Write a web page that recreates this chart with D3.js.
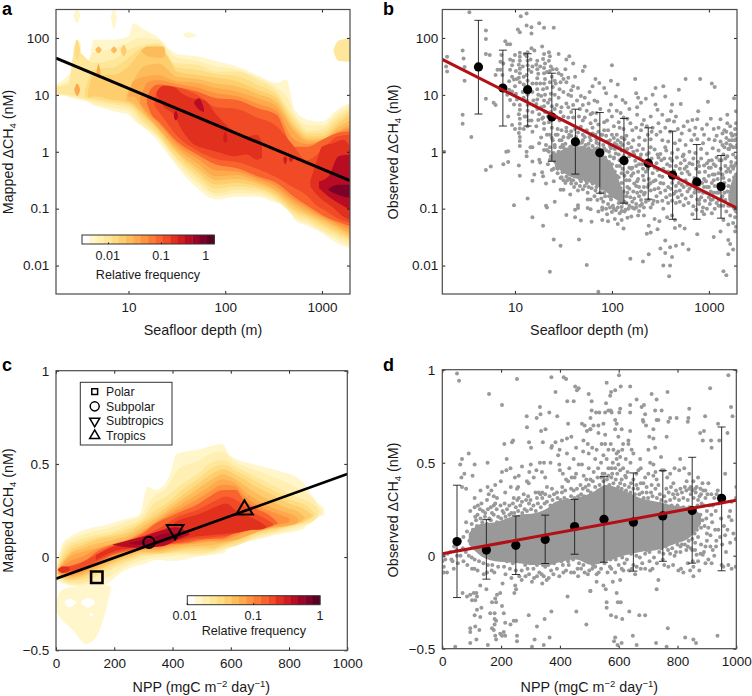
<!DOCTYPE html>
<html><head><meta charset="utf-8">
<style>html,body{margin:0;padding:0;background:#fff}svg{display:block;font-family:"Liberation Sans",Arial,sans-serif}</style>
<script src="https://cdn.jsdelivr.net/npm/d3@7"></script></head><body><div id="c"></div>
<script>
// ---------- shared tick / legend values ----------
const depthTicks=[10,100,1000], logConcTicks=[100,10,1,0.1,0.01], nppTicks=[0,200,400,600,800,1000], linTicks=[-0.5,0,0.5,1];
const freqTicks=[0.01,0.1,1];
const colorRamp=["#ffffff","#fff6cb","#ffefb2","#fee79b","#fedc84","#fecd6e","#fdbc5b","#fda94c","#fd9340","#fc7b35","#f9632d","#f04a26","#e2301f","#d01c1e","#b80c24","#9c0327","#7d0028","#5a0022"];
// ---------- regional means (panel c) ----------
const biomes=["Polar","Subpolar","Subtropics","Tropics"];
const biomeNpp=[140,319,409,647], biomeCH4=[-0.108,0.079,0.147,0.254];
// ---------- fit lines ----------
const fitA=[[1.78,44],[1950,0.31]], fitB=[[1.78,42],[1950,0.102]], fitC=[[0,-0.116],[1000,0.446]], fitD=[[0,0.011],[1000,0.298]];
// ---------- binned stats ----------
const binDepth=[4.2,7.5,13.5,24,42,75,133,237,422,750,1334];
const binMeanB=[31,13.2,12.3,4.07,1.5,0.96,0.70,0.63,0.39,0.295,0.245];
const binHiB=[204,61,52.7,24,5.6,4.9,3.85,2.63,2.3,1.34,0.86];
const binLoB=[4.6,2.83,2.83,0.68,0.405,0.187,0.125,0.147,0.065,0.065,0.068];
const binNpp=[50,150,250,350,450,550,650,750,850,950];
const binMeanD=[0.076,0.03,0.056,0.087,0.157,0.196,0.18,0.214,0.243,0.309];
const binHiD=[0.379,0.194,0.214,0.218,0.303,0.425,0.445,0.457,0.529,0.692];
const binLoD=[-0.225,-0.126,-0.101,-0.042,0.008,-0.035,-0.083,-0.03,-0.04,-0.081];
// ---------- panel a density bands: [log10 depth, log10 low, log10 high]; level = colour step ----------
const a1=[[.25,1,1.18],[.38,.96,1.35],[.41,.94,1.41],[.45,.93,1.97],[.50,.91,1.94],[.53,.90,1.47],[.59,.87,1.56],[.64,.81,1.97],[.74,.77,1.97],[.84,.71,1.97],[1,.65,2.03],[1.05,.56,2.26],[1.16,.42,2.15],[1.29,.21,2.03],[1.41,-.05,1.82],[1.53,-.32,1.71],[1.71,-.64,1.68],[1.91,-.84,1.59],[2.12,-.79,1.5],[2.33,-.79,1.35],[2.53,-.9,1.21],[2.63,-.95,1.27],[2.72,-1.2,.74],[2.86,-1.31,.56],[3,-1.43,.53],[3.16,-1.61,.74],[3.29,-1.7,.86]];
const a1s1=[[.43,2.4,2.42],[.47,2.26,2.5],[.50,2.4,2.42]];
const a1s2=[[.82,2.35,2.38],[.85,2.15,2.5],[.88,2.35,2.38]];
const a1s3=[[1.57,2.04,2.07],[1.62,2,2.1],[1.7,2.03,2.05]];
const a3tr=[[3.12,1.76,1.8],[3.17,1.6,1.95],[3.29,1.58,2.0]];
const a2=[[.25,1.01,1.16],[.38,.98,1.25],[.45,.95,1.85],[.5,.93,1.8],[.53,.92,1.45],[.64,.85,1.75],[.84,.77,1.8],[1,.71,1.92],[1.1,.52,2.0],[1.31,.24,1.97],[1.47,-.14,1.68],[1.71,-.56,1.6],[1.91,-.78,1.5],[2.12,-.73,1.45],[2.33,-.75,1.31],[2.53,-.87,1.13],[2.66,-1.05,.9],[2.71,-1.15,.68],[2.86,-1.27,.46],[3,-1.4,.46],[3.16,-1.55,.68],[3.29,-1.66,.82]];
const a3=[[.25,1.03,1.14],[.38,1,1.18],[.45,.97,1.79],[.64,.89,1.56],[.84,.83,1.62],[1,.77,1.79],[1.16,.5,1.88],[1.31,.27,1.91],[1.47,-.08,1.56],[1.71,-.49,1.53],[1.91,-.73,1.41],[2.12,-.67,1.41],[2.33,-.7,1.27],[2.53,-.84,1.06],[2.71,-1.11,.62],[2.86,-1.23,.36],[3,-1.37,.39],[3.16,-1.49,.62],[3.29,-1.61,.77]];
const a4=[[.55,.96,1.1],[.64,.93,1.45],[.84,.87,1.48],[1,.82,1.65],[1.16,.56,1.84],[1.31,.31,1.87],[1.4,.1,1.7],[1.5,-.1,1.48],[1.71,-.42,1.44],[1.91,-.65,1.36],[2.12,-.61,1.33],[2.33,-.65,1.18],[2.53,-.8,1],[2.71,-1.06,.55],[2.86,-1.18,.32],[3,-1.31,.33],[3.16,-1.44,.55],[3.29,-1.56,.71]];
const a5=[[.58,.95,1.05],[.64,.97,1.35],[.84,.91,1.35],[1,.86,1.5],[1.16,.62,1.79],[1.31,.36,1.82],[1.4,.15,1.68],[1.5,-.03,1.41],[1.71,-.35,1.35],[1.91,-.58,1.3],[2.12,-.55,1.24],[2.33,-.61,1.09],[2.53,-.76,.94],[2.71,-1.02,.48],[2.86,-1.14,.27],[3,-1.26,.27],[3.16,-1.4,.48],[3.29,-1.52,.65]];
const a5s1=[[.66,1.15,1.2],[.69,1.03,1.56],[.72,1.15,1.2]];
const a5s2=[[.82,1.12,1.16],[.85,1,1.3],[.88,1.12,1.16]];
const a5s3=[[.92,1.76,1.8],[.95,1.68,1.88],[.98,1.76,1.8]];
const a4s=[[.44,1.78,1.8],[.47,1.62,1.97],[.5,1.78,1.8]];
const a6=[[.98,.9,1],[1.05,.85,1.25],[1.16,.66,1.5],[1.31,.41,1.55],[1.5,.01,1.32],[1.71,-.28,1.28],[1.91,-.5,1.2],[2.12,-.48,1.15],[2.33,-.56,1.02],[2.53,-.71,.87],[2.71,-.96,.42],[2.86,-1.1,.22],[3,-1.21,.22],[3.16,-1.35,.42],[3.29,-1.47,.56]];
const a6s1=[[.66,1.78,1.8],[.69,1.73,1.85],[.72,1.78,1.8]];
const a6s2=[[.82,1.78,1.8],[.85,1.73,1.85],[.88,1.78,1.8]];
const a6s3=[[1.13,1.76,1.78],[1.2,1.68,1.85],[1.3,1.65,1.85],[1.36,1.65,1.85],[1.38,1.72,1.78]];
const a7s1=[[.44,1.08,1.1],[.47,.98,1.2],[.5,1.08,1.1]];
const a7s2=[[.67,1.38,1.42],[.69,1.3,1.53],[.71,1.38,1.42]];
const a7=[[1,.95,1],[1.05,.97,1.24],[1.16,.71,1.32],[1.29,.45,1.35],[1.5,.06,1.24],[1.71,-.2,1.21],[1.91,-.43,1.12],[2.12,-.41,1.06],[2.33,-.52,.94],[2.53,-.67,.8],[2.71,-.9,.36],[2.86,-1.05,.18],[3,-1.17,.18],[3.16,-1.31,.36],[3.29,-1.43,.48]];
const a8=[[1.12,.85,.95],[1.2,.68,1.22],[1.31,.49,1.26],[1.5,.12,1.19],[1.71,-.12,1.13],[1.91,-.33,1.03],[2.12,-.35,.98],[2.33,-.47,.85],[2.53,-.61,.72],[2.71,-.85,.22],[2.86,-1,.13],[3,-1.14,.2],[3.16,-1.27,.34],[3.29,-1.37,.42]];
const a9=[[1.19,.85,.95],[1.24,.65,1.12],[1.31,.53,1.18],[1.5,.18,1.14],[1.71,-.05,1.06],[1.91,-.23,.94],[2.12,-.29,.91],[2.33,-.43,.77],[2.53,-.55,.65],[2.71,-.79,.09],[2.86,-.96,.09],[3,-1.11,.21],[3.16,-1.23,.33],[3.29,-1.31,.36]];
const a10=[[1.27,.8,.95],[1.35,.62,1.15],[1.5,.28,1.13],[1.71,.02,1],[1.91,-.13,.78],[2.12,-.18,.75],[2.33,-.3,.6],[2.53,-.45,.45],[2.68,-.6,.16],[2.85,-.78,-.15],[2.95,-.95,-.05],[3.05,-1.05,.12],[3.16,-1.17,.27],[3.29,-1.25,.3]];
const a12=[[1.29,1,1.05],[1.36,.8,1.16],[1.47,.65,1.14],[1.55,.39,1.03],[1.66,.15,.94],[1.78,.06,.91],[1.91,0,.65],[2.09,-.08,.36],[2.22,-.05,.27],[2.33,-.14,.3],[2.38,-.1,.15]];
const a12r=[[2.88,-.61,-.52],[2.95,-.76,-.14],[3,-.84,.09],[3.12,-.99,.15],[3.22,-1.14,.21],[3.29,-1.2,.09]];
const a13s=[[1.98,.2,.25],[2,.15,.36],[2.02,.2,.25]];
const a13t=[[2.6,-.14,-.12],[2.62,-.22,-.08],[2.64,-.14,-.12]];
const a13u=[[2.66,-.14,-.12],[2.68,-.18,-.08],[2.7,-.14,-.12]];
const a14=[[2.97,-.64,-.52],[3.07,-.79,-.43],[3.17,-.9,-.08],[3.29,-1.02,-.05]];
const a14s=[[1.68,.84,.88],[1.73,.74,.94],[1.78,.7,.76]];
const a14t=[[1.47,.6,.65],[1.49,.55,.72],[1.51,.6,.65]];
const a16=[[3.07,-.68,-.64],[3.17,-.76,-.58],[3.29,-.81,-.58]];
const bandsA=[[1,a1],[1,a1s1],[1,a1s2],[1,a1s3],[3,a3tr],[2,a2],[3,a3],[4,a4],[5,a5],[5,a5s1],[5,a5s2],[5,a5s3],[4,a4s],[6,a6],[6,a6s1],[6,a6s2],[6,a6s3],[7,a7s1],[7,a7s2],[7,a7],[8,a8],[10,a9],[11,a10],[12,a12],[12,a12r],[13,a13s],[13,a13t],[13,a13u],[14,a14],[14,a14s],[14,a14t],[16,a16]];
// ---------- panel c density bands: [NPP, low, high] ----------
const c1=[[0,-.123,-.06],[23,-.141,.074],[69,-.159,.127],[114,-.168,.154],[172,-.145,.172],[229,-.078,.2],[286,-.043,.226],[315,-.03,.378],[343,-.016,.36],[389,-.02,.431],[414,-.02,.553],[481,.002,.574],[572,.02,.607],[595,.05,.548],[687,.092,.494],[755,.12,.467],[847,.15,.404],[881,.2,.324],[921,.225,.261]];
const c1p=[[0,-.29,-.23],[17,-.33,-.18],[57,-.39,-.16],[103,-.466,-.16],[137,-.43,-.16],[169,-.3,-.15],[189,-.17,-.16]];
const c0h1=[[29,-.245,-.24],[45,-.27,-.225],[69,-.245,-.24]];
const c0h2=[[86,-.25,-.24],[110,-.27,-.22],[132,-.25,-.235]];
const c0h3=[[115,-.31,-.305],[122,-.32,-.30],[128,-.31,-.305]];
const c2=[[3,-.115,-.05],[28,-.137,.065],[75,-.15,.11],[125,-.135,.136],[185,-.1,.155],[240,-.05,.19],[290,-.02,.22],[332,-.005,.32],[378,0,.37],[425,.01,.48],[481,.01,.51],[540,.02,.56],[572,.035,.565],[610,.06,.515],[687,.1,.465],[755,.128,.425],[835,.158,.365],[890,.2,.3],[912,.235,.25]];
const c3=[[6,-.105,-.043],[34,-.132,.056],[80,-.141,.092],[137,-.105,.118],[195,-.06,.136],[252,-.025,.172],[298,.002,.208],[332,.011,.279],[378,.016,.324],[435,.02,.395],[481,.02,.44],[538,.029,.512],[572,.047,.521],[618,.06,.485],[687,.11,.431],[755,.136,.378],[824,.167,.324],[887,.199,.279],[904,.24,.245]];
const c4=[[6,-.1,-.05],[40,-.125,.042],[86,-.122,.078],[137,-.09,.105],[195,-.047,.123],[252,-.013,.154],[298,.011,.194],[343,.015,.252],[389,.022,.3],[435,.031,.364],[481,.034,.413],[538,.038,.48],[572,.056,.496],[625,.076,.458],[687,.12,.405],[750,.143,.355],[812,.172,.305],[865,.195,.27],[890,.225,.23]];
const c5=[[6,-.096,-.06],[46,-.119,.029],[92,-.105,.065],[137,-.078,.092],[195,-.034,.11],[252,-.001,.136],[298,.02,.181],[343,.02,.226],[389,.029,.279],[435,.042,.333],[481,.047,.387],[538,.047,.449],[572,.065,.471],[629,.092,.431],[687,.131,.378],[744,.149,.333],[801,.167,.288],[847,.19,.261],[881,.22,.225]];
const c6=[[6,-.09,-.066],[46,-.11,.015],[92,-.095,.047],[137,-.064,.07],[195,-.023,.092],[252,.01,.118],[298,.029,.163],[343,.029,.208],[389,.04,.26],[435,.053,.31],[481,.06,.36],[538,.064,.42],[572,.074,.444],[615,.09,.418],[675,.125,.355],[733,.157,.305],[790,.166,.265],[835,.185,.24],[855,.21,.212]];
const c7=[[6,-.087,-.073],[46,-.101,.002],[92,-.084,.029],[137,-.051,.047],[195,-.012,.074],[252,.02,.1],[298,.038,.145],[343,.038,.19],[389,.052,.244],[435,.065,.288],[481,.072,.333],[526,.08,.378],[572,.083,.417],[607,.09,.404],[664,.12,.333],[721,.15,.279],[778,.165,.244],[824,.18,.217],[835,.2,.2]];
const c8=[[12,-.087,-.065],[50,-.09,-.02],[95,-.072,.006],[140,-.038,.042],[195,0,.07],[252,.027,.096],[298,.045,.136],[343,.047,.185],[389,.061,.23],[435,.07,.268],[481,.08,.306],[526,.088,.35],[572,.09,.388],[612,.11,.382],[650,.135,.325],[700,.158,.27],[755,.17,.235],[800,.185,.21]];
const c9=[[17,-.087,-.06],[57,-.078,-.043],[103,-.06,-.016],[149,-.025,.038],[195,.011,.065],[252,.034,.092],[298,.052,.127],[343,.056,.181],[389,.07,.217],[435,.074,.249],[481,.088,.279],[526,.097,.324],[572,.1,.36],[618,.13,.36],[641,.14,.315],[687,.154,.261],[732,.163,.226],[761,.18,.185]];
const c10=[[20,-.08,-.05],[46,-.075,-.05],[100,-.05,-.02],[149,-.015,.022],[195,.018,.06],[252,.04,.085],[309,.055,.12],[366,.062,.165],[423,.08,.22],[481,.098,.25],[538,.107,.295],[584,.115,.325],[625,.13,.3],[670,.145,.245],[720,.155,.205],[745,.17,.18]];
const c11l=[[6,-.07,-.065],[23,-.085,-.05],[46,-.075,-.055]];
const c12=[[137,-.016,.011],[195,.029,.056],[252,.047,.077],[309,.06,.109],[366,.07,.145],[423,.092,.199],[481,.11,.226],[538,.118,.262],[584,.125,.288],[618,.13,.25],[664,.145,.217],[709,.15,.18],[721,.16,.165]];
const c14=[[195,.065,.068],[252,.052,.092],[298,.05,.11],[366,.058,.145],[412,.09,.16],[458,.12,.125]];
const c15=[[252,.07,.075],[320,.065,.1],[400,.095,.13],[430,.11,.115]];
const bandsC=[[1,c1],[1,c1p],[0,c0h1],[0,c0h2],[0,c0h3],[2,c2],[3,c3],[4,c4],[5,c5],[6,c6],[7,c7],[8,c8],[10,c9],[11,c10],[12,c11l],[12,c12],[14,c14],[15,c15]];
// ---------- panel b observations: [log10 depth, log10 CH4] ----------
const coreB=[[1.38,-.15,-.05],[1.45,-.3,0],[1.55,-.42,.08],[1.7,-.5,.08],[1.85,-.6,0],[1.95,-.72,-.12],[2.05,-.85,-.4],[2.12,-.95,-.75]];
const coreB2=[[3.2,-.85,-.75],[3.24,-1,-.5],[3.29,-1.1,-.35]];
const obsB=[[.53,2.45],[1.06,2.38],[1.12,2.43],[1.25,2.26],[1.3,2.18],[1.4,2.18],[1.12,2.22],[1.17,2.19],[1.03,2.15],[1.05,2.1],[1.17,2.08],[.7,2.13],[.7,1.98],[.7,1.72],[.74,1.7],[.46,1.78],[.3,1.67],[.47,1.64],[.29,1.5],[.3,1.41],[.48,1.49],[.48,1.25],[.7,.93],[.78,.86],[.8,.82],[.46,.65],[.46,.49],[.55,.26],[.27,0],[.7,-.32],[.75,-.26],[.88,-.22],[.93,-.18],[.93,.01],[.91,0],[.99,-.94],[1.13,-.82],[1.18,-1.15],[1.29,-1.3],[1.4,-1.54],[1.47,-1.65],[1.66,-1.54],[1.74,-1.99],[1.36,-2.11],[1.53,-1.11],[1.62,-1.15],[1.68,-1.21],[1.32,-.95],[1.33,-.98],[1.41,-.88],[1.57,-.75],
[1.04,-.24],[1.05,-.42],[1.18,-.51],[1.2,-.4],[1.28,-.36],[1.29,-.43],[1.32,-.56],[1.4,-.52],[1.47,-.67],[1.5,-.67],[1.65,-.94],[1.62,-1.02],[1.65,-.99],[1.75,-.84],[1.78,-.84],[1.75,-.99],[1.78,-1.01],[1.79,-1.23],[1.12,0],[1.12,-.08],[1.16,.08],[1.18,.08],[1.18,-.17],[1.25,-.14],[1.26,-.19],[1.3,.03],[1.32,.12],[1.35,0],[1.37,-.08],[1.38,-.32],[1.47,-.26],[1.44,-.11],[1.45,0],
[1.05,1.74],[1.05,1.67],[1.05,1.6],[1.04,1.53],[1.05,1.46],[1.05,1.38],[1.04,1.3],[1.05,1.22],[1.05,.82],[1.05,.74],[1.04,.66],[1.05,.58],[1.05,.49],[1.05,.41],[1.04,.33],[1.05,.26],[1.05,.19],[1.05,.1],
[1.13,1.75],[1.12,1.68],[1.13,1.6],[1.13,1.52],[1.14,1.44],[1.12,1.35],[1.13,1.25],[1.13,1.15],[1.13,1],[1.12,.9],[1.13,.82],[1.13,.72],[1.12,.62],[1.14,.55],[1.13,.45],
[1.23,1.6],[1.22,1.53],[1.23,1.45],[1.24,1.37],[1.23,1.29],[1.22,1.2],[1.23,1.1],[1.24,1],[1.23,.92],[1.22,.84],[1.23,.75],[1.25,.66],[1.24,.56],[1.22,.45],
[1.3,1.72],[1.29,1.63],[1.31,1.55],[1.3,1.47],[1.3,1.38],[1.31,1.28],[1.3,1.2],[1.29,1.1],[1.31,1],[1.3,.9],[1.3,.8],[1.31,.7],[1.29,.6],[1.3,.5],[1.3,.4],
[1.35,1.75],[1.36,1.68],[1.35,1.6],[1.37,1.5],[1.36,1.42],[1.38,1.32],[1.36,1.22],[1.39,1.14],[1.37,1.02],[1.36,.92],[1.38,.8],[1.37,.7],[1.35,.52],[1.38,.42],[1.36,.3],[1.39,.2],[1.41,.12],
[.9,1.94],[.92,1.89],[.95,1.89],[.95,1.62],[.82,1.44],[.85,1.44],[.8,1.35],[.87,1.35],[.95,1.44],[.97,1.32],[.94,1.24],[.99,1.27],[.94,1.09],[.97,1.06],[.92,1],[.95,.91],[.99,.83],[.93,.62],[.97,.47],[1,.4],[1,1.15],[1.01,1.02],[1.02,.92],[.98,1.6],[.88,1.55],[.85,1.58],[.86,1.7],[1.09,1.18],[1.08,1.05],[1.09,.95],[1.1,.62],[1.09,.4],[1.17,1.4],[1.18,1.2],[1.18,1.05],[1.19,.9],[1.18,.7],[1.17,.55],[1.18,.35],[1.27,.25],[1.25,.15],[1.33,.3],
[1.43,1.45],[1.45,1.38],[1.48,1.35],[1.5,1.28],[1.53,1.22],[1.42,1.2],[1.46,1.1],[1.5,1.05],[1.45,.95],[1.55,1],[1.58,.98],[1.6,1.15],[1.62,1.32],[1.7,1.42],[1.72,1.5],[1.53,1.62],[1.45,1.72],[1.56,1.68],[1.6,1.55],[1.43,.82],[1.48,.78],[1.53,.85],[1.6,.82],[1.64,.9],[1.68,.98],[1.72,.95],[1.77,1.05],[1.8,1.15],[1.83,1.28],[1.7,.82],[1.76,.85],[1.82,.9],[1.42,.62],[1.46,.55],[1.5,.62],[1.55,.6],[1.6,.6],[1.66,.62],[1.72,.6],[1.78,.66],[1.84,.68],[1.88,.75],[1.44,.4],[1.48,.38],[1.53,.42],[1.58,.36],[1.62,.4],[1.68,.44],[1.74,.38],[1.8,.42],[1.86,.48],[1.92,.52],[1.55,.25],[1.62,.22],[1.7,.2],[1.78,.2],[1.84,.22],[1.9,.3],[1.96,.38],
[2,1.52],[2.24,1.28],[2.76,1.28],[2.91,1.28],[3.03,1.2],[3.06,1.14],[1.99,1.25],[2.06,1.18],[1.87,1.21],[1.92,1.12],[1.94,1.03],[2.04,.97],[2.11,.91],[2.14,.86],[1.85,.88],[2.69,1.09],[2.45,1.12],[2.53,1.15],[2.25,1.03],[2.27,.95],[2.35,.93],[2.42,1],[2.55,.97],[2.3,.86],[2.45,.83],[2.62,.83],[2.71,.84],[2.99,.88],[3.26,.94],[2.89,.71],[3.28,.71],[1.99,.83],[1.8,.68],[2,.62],[2.09,.68],[2.26,.65],[2.47,.74],[2.52,.65],[2.61,.71],[2.59,.56],[2.64,.53],[2.78,.53],[2.83,.56],[2.88,.57],[3.12,.57],[3.19,.65],[3.19,.5],[2.19,.5],[2.25,.42],[2.33,.56],[2.4,.62],
[2.02,.45],[2.07,.52],[2.12,.4],[2.16,.58],[2.3,.38],[2.36,.45],[2.42,.42],[2.48,.5],[2.55,.42],[2.6,.35],[2.68,.4],[2.72,.32],[2.8,.38],[2.86,.42],[2.93,.4],[2.98,.48],[3.05,.4],[3.1,.42],[3.16,.38],[3.22,.45],[3.27,.4],[2.05,.3],[2.1,.25],[2.15,.28],[2.22,.2],[2.28,.25],[2.34,.2],[2.4,.22],[2.46,.3],[2.52,.2],[2.58,.18],[2.65,.15],[2.7,.2],[2.76,.12],[2.82,.2],[2.88,.22],[2.94,.15],[3,.22],[3.06,.2],[3.12,.18],[3.18,.24],[3.24,.28],[3.28,.22],
[1.98,.1],[2.03,.15],[2.08,.08],[2.14,.02],[2.2,.08],[2.26,.02],[2.32,.05],[2.38,-.02],[2.44,.04],[2.5,-.04],[2.56,.02],[2.62,-.02],[2.68,.04],[2.74,-.05],[2.8,0],[2.86,-.02],[2.92,.05],[2.98,-.03],[3.04,.06],[3.1,.02],[3.16,.08],[3.22,.12],[3.28,.08],
[2.02,-.1],[2.07,-.05],[2.13,-.14],[2.18,-.08],[2.24,-.16],[2.29,-.1],[2.35,-.17],[2.41,-.12],[2.46,-.2],[2.51,-.15],[2.57,-.22],[2.62,-.16],[2.66,-.25],[2.71,-.2],[2.77,-.26],[2.83,-.22],[2.89,-.18],[2.95,-.24],[3,-.16],[3.05,-.22],[3.11,-.15],[3.17,-.12],[3.23,-.18],[3.28,-.1],
[2.05,-.25],[2.11,-.3],[2.16,-.36],[2.21,-.28],[2.27,-.35],[2.32,-.42],[2.37,-.3],[2.42,-.38],[2.47,-.32],[2.52,-.44],[2.56,-.35],[2.6,-.42],[2.64,-.34],[2.68,-.45],[2.72,-.38],[2.76,-.5],[2.8,-.4],[2.85,-.46],[2.9,-.36],[2.95,-.48],[3,-.42],[3.05,-.5],[3.1,-.38],[3.15,-.46],[3.2,-.3],[3.26,-.25],
[2.18,-.5],[2.23,-.56],[2.28,-.62],[2.33,-.5],[2.38,-.58],[2.43,-.52],[2.48,-.64],[2.53,-.56],[2.58,-.62],[2.62,-.55],[2.66,-.6],[2.7,-.68],[2.74,-.62],[2.78,-.7],[2.82,-.6],[2.86,-.66],[2.9,-.58],[2.94,-.72],[2.98,-.62],[3.02,-.7],[3.06,-.6],[3.1,-.72],
[2.22,-.7],[2.28,-.78],[2.34,-.72],[2.4,-.68],[2.46,-.78],[2.5,-.72],[2.56,-.8],[2.6,-.76],[2.64,-.74],[2.68,-.8],[2.72,-.76],[2.76,-.82],[2.82,-.78],[2.88,-.84],[2.92,-.8],[2.96,-.86],[3,-.8],[3.04,-.84],[3.08,-.9],[3.12,-.95],
[1.86,-1.05],[1.9,-1.02],[1.95,-1.1],[2,-1.06],[2.04,-1.03],[2.08,-1.08],[2.13,-1.05],[2.18,-.95],[2.23,-1],[2.28,-1.04],[2.33,-.98],[2.42,-.92],[2.4,-.98],
[1.9,-1.2],[1.96,-1.22],[2.03,-1.18],[2.06,-1.27],[2.1,-1.2],[2.16,-1.16],[2.2,-1.14],[2.12,-1.35],[2.27,-1.12],[2.33,-1.12],[2.38,-1.3],[2.44,-1.18],[2.53,-1],[2.57,-1.15],[2.62,-1.12],[2.65,-1.2],[2.49,-1.22],[2.47,-1.36],[2.4,-1.42],[2.36,-1.44],[2.65,-1.34],[2.7,-1.3],[2.75,-1.35],[2.83,-1.1],[2.87,-1.02],[2.93,-1.05],[2.95,-1.1],[2.98,-1],[3.03,-1.08],[3.15,-1.2],[3.2,-1.28],[3.25,-1.25],[3.28,-1.32],[3.27,-1.4],
[2.5,-1.7],[2.55,-1.56],[2.38,-1.8],[2.6,-1.68],[2.66,-1.65],[2.73,-1.62],[2.88,-1.45],[3.05,-1.5],[3.12,-1.4],[3.2,-1.55],[3.22,-1.62],[3.25,-1.72],[3.2,-1.8],[2.62,-1.85],[2.6,-2],[2.59,-2.19],[2.53,-2],[3.15,-2.1],[3.18,-2.17],[1.86,-2.46],[2.19,-1.88],[2.79,-1.72],[2.55,-1.78],[2.32,-1.93]];
const obsB2=[[1.33,.03],[1.36,-.14],[1.41,.08],[1.43,-.25],[1.46,.2],[1.49,-.36],[1.5,.26],[1.52,.14],[1.54,-.5],[1.56,.3],[1.58,-.56],[1.6,.18],[1.61,-.62],[1.63,.26],[1.65,-.68],[1.66,.14],[1.68,-.52],[1.7,.3],[1.72,-.6],[1.73,.12],[1.75,-.72],[1.77,.26],[1.79,-.64],[1.8,.1],[1.82,-.78],[1.83,.3],[1.85,-.85],[1.86,.14],[1.88,-.72],[1.89,.3],[1.91,-.88],[1.92,.06],[1.93,-.78],[1.95,.18],[1.96,-.92],[1.97,0],[1.99,-.84],[2,.3],[2.01,-.95],[2.03,.05],[2.04,-.8],[2.06,.2],[2.07,-.9],[2.08,-.15],[2.1,-.97],[2.11,.12],[2.12,-.7],[2.14,-.2],[2.15,-.9],[2.17,.15],[2.18,-.65],[2.2,-.3],[2.21,-.88],[2.23,-.05],[2.25,-.92],[2.26,-.52],[2.28,.12],[2.3,-.85],[2.31,-.22],[2.33,-.62],
[1.42,-.18],[1.44,-.3],[1.46,-.08],[1.48,-.45],[1.5,.08],[1.52,-.55],[1.56,-.47],[1.59,.1],[1.6,-.5],[1.64,.08],[1.67,-.6],[1.71,.08],[1.74,-.55],[1.76,.06],[1.78,-.5],[1.82,.05],[1.84,-.62],[1.87,-.02],[1.9,-.65],[1.93,-.1],[1.94,-.55],[1.97,-.18],[2,-.22],[2,-.68],[2.03,-.35],[2.05,-.6],[2.07,-.45],[2.1,-.55],[2.13,-.42],[2.16,-.62],[2.15,-.78],[2.2,-.42],[2.25,-.25],[2.27,-.48],[2.3,-.05],[2.35,-.35],[2.38,-.48],[2.4,.08],[2.45,-.5],[2.48,-.1],[2.5,-.55],[2.53,-.3],[2.55,.08],[2.6,-.12],[2.63,-.48],[2.67,-.1],[2.69,-.55],[2.73,-.08],[2.75,-.3],[2.78,-.58],[2.8,-.2],[2.84,-.55],[2.87,-.3],[2.9,-.7],[2.92,-.12],[2.96,-.35],[2.97,-.52],[3,-.62],[3.02,-.28],[3.03,-.55],[3.05,-.72],[3.06,-.4],[3.08,-.1],[3.1,-.58],[3.12,-.3],[3.13,-.82],[3.14,-.65],[3.15,-.05],[3.16,-.55],[3.17,-.85],[3.18,-.35],[3.19,-.7],[3.2,.05],[3.21,-.5],[3.22,-.95],[3.23,-.25],[3.24,.2],[3.25,-.05],[3.26,-.65],[3.27,.3],[3.28,-.4],[3.29,-.2],[3.18,.35],[3.23,.32],[3.28,.5],[3.15,-.95],[3.18,-1.05],[3.22,-1.12],[3.27,-1.15],[3.29,-.9],[3.1,-.95],[3.06,-1],[3.01,-.92],
[.97,1.52],[1,1.7],[1.01,1.42],[1.02,1.28],[1.08,1.5],[1.09,1.32],[1.1,1.72],[1.16,1.62],[1.17,1.82],[1.18,1.5],[1.2,1.78],[1.26,1.5],[1.26,1.2],[1.27,.98],[1.27,.78],[1.28,.58],[1.28,1.85],[1.33,1.4],[1.33,1.12],[1.34,.86],[1.34,.62],[1.39,1.45],[1.41,1.25],[1.41,1],[1.41,.75],[1.42,.3],[1.47,1.22],[1.47,.7],[1.48,.2],[1.52,1.45],[1.55,1.3],[1.55,.78],[1.58,.7],[1.58,1.08],[1.65,1.12],[1.67,.75],[1.7,.55],[1.74,.72],[1.78,.5],[1.83,.55],[1.86,.35],[1.92,.38],[1.95,.55],[1.97,.72],[2.05,.72],[2.08,.42],[2.12,.6],[2.18,.75],[2.21,.38],[2.26,.78],[2.31,.48],[2.37,.3],[2.41,.35],[2.5,.35],[2.57,.55],[2.66,.62],[2.74,.45],[2.85,.3],[2.95,.3],[3.02,.58],[3.08,.28],[3.14,.32],[3.21,.2],
[1.9,-.98],[1.94,-1],[1.98,-.98],[2.02,-1],[2.06,-.98],[2.1,-1.04],[2.14,-1.02],[2.17,-1],[2.21,-.98],[2.25,-.98],[2.29,-.95],[2.31,-.92],[2.35,-.88],[2.38,-.85],[2.43,-.86],[2.47,-.88],[2.52,-.86],[2.58,-.9],[2.62,-.86],[2.66,-.9],[2.7,-.88],[2.74,-.94],[2.79,-.9],[2.84,-.96],[2.9,-.92],[2.94,-.98]];
const obsB3=[[1.38,.24],[1.44,.3],[1.49,.12],[1.53,.36],[1.58,.28],[1.62,.12],[1.65,.34],[1.69,.16],[1.72,.26],[1.76,.14],[1.8,.32],[1.84,.16],[1.88,.22],[1.91,.12],[1.94,.28],[1.98,.2],[2.02,.24],[2.05,.12],[2.09,.16],[2.13,.22],
[1.36,.08],[1.4,-.02],[1.47,.08],[1.53,.02],[1.57,.09],[1.62,.04],[1.68,.07],[1.74,.03],[1.79,.02],[1.85,.06],[1.89,.02],[1.94,.02],[1.99,.06],[2.04,-.03],[2.1,.02],[2.16,.05],[2.22,0],
[1.34,-.22],[1.38,-.12],[1.4,-.3],[1.44,-.38],[1.47,-.46],[1.5,-.5],[1.53,-.44],[1.58,-.5],[1.63,-.56],[1.67,-.48],[1.7,-.66],[1.73,-.5],[1.76,-.62],[1.8,-.56],[1.83,-.68],[1.86,-.58],[1.89,-.82],[1.92,-.72],[1.94,-.62],[1.97,-.78],[2,-.78],[2.03,-.68],[2.06,-.76],[2.09,-.64],[2.1,-.82],[2.13,-.88],[2.16,-.72],[2.19,-.8],[2.23,-.82],[2.26,-.72],[2.3,-.7],
[1.9,-.2],[1.93,-.3],[1.96,-.42],[1.98,-.08],[2,-.52],[2.02,-.12],[2.05,-.42],[2.08,-.25],[2.1,-.38],[2.12,-.08],[2.15,-.18],[2.15,-.5],[2.18,-.28],[2.22,-.38],[2.25,-.6],[2.28,-.22],[2.32,-.3],[2.33,-.75],[2.36,-.05],[2.37,-.62],[2.4,-.55],[2.44,-.28],[2.44,-.66],[2.47,-.05],[2.49,-.42],[2.54,-.12],[2.55,-.68],[2.58,-.35],[2.6,-.25],[2.61,-.65],[2.65,-.45],[2.66,-.7],[2.7,-.3],[2.72,-.58],[2.75,-.15],[2.78,-.35],[2.8,-.65],[2.84,-.12],[2.85,-.72],[2.88,-.5],[2.9,-.25],[2.93,-.55],[2.95,-.62],[2.98,-.2],[3,-.28],[3.03,-.15],[3.04,-.4],[3.07,-.25],[3.09,-.48],[3.11,-.68],[3.13,-.15],[3.14,-.4],[3.16,-.72],[3.17,-.25],[3.19,-.08],[3.2,-.6],[3.22,-.35],[3.23,-.62],[3.25,-.3],[3.26,-.45],[3.27,-.75],[3.28,-.2],[3.29,-.55],[3.25,.08],[3.29,.12],[3.21,.05],[3.18,.15],[3.23,.1],[3.27,.2],[3.14,.12],[3.2,-.95],[3.24,-.85],[3.26,-.95],[3.28,-1.05],[3.14,-.78],[3.08,-.72],[3.1,-.85],[3.02,-.85],[2.97,-.72],[2.9,-.85]];
// ---------- panel d observations: [NPP, CH4] ----------
const coreD=[[90,.06,.12],[130,0,.17],[180,-.03,.18],[260,-.04,.22],[317,-.05,.23],[362,-.05,.26],[385,-.04,.29],[453,-.02,.31],[510,-.05,.34],[559,-.03,.38],[616,0,.35],[673,.02,.31],[729,.03,.29],[786,.06,.27],[843,.1,.26],[880,.17,.22]];
const obsD=[[50,.98],[57,.94],[159,.87],[254,.95],[203,.81],[371,.96],[413,.96],[421,.95],[385,.88],[425,.83],[447,.83],[452,.91],[464,.9],[458,.89],[498,.87],[332,.8],[334,.76],[364,.77],[321,.74],[287,.75],[391,.75],[288,.69],[336,.67],[351,.68],[428,.71],[475,.71],[484,.7],[504,.74],[492,.67],[504,.68],[211,.6],[237,.61],[241,.62],[295,.61],[302,.58],[342,.61],[385,.61],[407,.62],[424,.63],[439,.64],[371,.58],[373,.59],[399,.57],[394,.54],[424,.55],[479,.56],[498,.55],[90,.55],[67,.52],[61,.49],[110,.49],[154,.5],[219,.52],[271,.48],[301,.49],[332,.5],[346,.5],[368,.5],[398,.49],[432,.47],[447,.52],[464,.49],[475,.49],[498,.47],[203,.45],[218,.46],[232,.47],[296,.45],[339,.45],[400,.46],[75,.44],[65,.42],[103,.43],[199,.4],[247,.42],[288,.4],[294,.39],[311,.42],[421,.41],[428,.4],[481,.43],[504,.41],[67,.37],[81,.36],[154,.37],[167,.35],[233,.37],[258,.37],[254,.36],[214,.34],[158,.33],[152,.3],[175,.32],[186,.31],[180,.28],[133,.28],[121,.27],[110,.26],[95,.24],[112,.21],[81,.18],[175,.27],[277,.33],[292,.32],[317,.34],[328,.34],[334,.33],[356,.37],[373,.36],[390,.34],[407,.34],[470,.38],[447,.35],[487,.37],[243,.31],[260,.31],[271,.29],[209,.23],[169,.23],[146,.23],
[5,0],[0,-.03],[5,-.06],[16,-.09],[5,-.09],[39,-.07],[53,-.04],[50,0],[31,-.02],[101,-.07],[109,-.07],[177,-.09],[141,-.1],[205,-.15],[129,-.16],[150,-.18],[248,-.16],[251,-.18],[245,-.2],[283,-.11],[305,-.14],[322,-.11],[340,-.15],[362,-.12],[345,-.11],[69,-.2],[84,-.22],[95,-.21],[107,-.2],[116,-.2],[118,-.22],[101,-.24],[112,-.24],[186,-.21],[197,-.2],[180,-.23],[183,-.25],[169,-.25],[203,-.27],[133,-.28],[118,-.29],[110,-.32],[129,-.33],[163,-.31],[178,-.31],[178,-.34],[183,-.35],[209,-.31],[178,-.37],[169,-.39],[175,-.4],[112,-.38],[95,-.39],[95,-.41],[126,-.4],[116,-.45],[95,-.47],[155,-.48],[180,-.43],[183,-.45],[197,-.42],[209,-.41],[203,-.43],[214,-.43],[214,-.36],[232,-.37],[243,-.35],[251,-.35],[254,-.43],[254,-.46],[294,-.32],[322,-.38],[348,-.34],[371,-.3],[365,-.44],[314,-.45],[345,-.48],[305,-.49],[44,-.49],[426,-.22],[456,-.3],[490,-.37],[504,-.19],[421,-.08],[462,-.11],[484,-.09],[500,-.08],
[601,.97],[973,.97],[559,.93],[607,.91],[639,.91],[911,.9],[588,.89],[574,.88],[571,.86],[766,.88],[712,.87],[557,.82],[508,.83],[661,.84],[729,.84],[639,.81],[678,.8],[686,.81],[982,.8],[508,.78],[523,.77],[534,.77],[554,.77],[565,.78],[573,.78],[576,.77],[605,.79],[602,.77],[639,.77],[724,.78],[746,.78],[840,.79],[690,.76],[894,.75],[987,.75],[837,.74],[775,.74],[797,.74],[682,.73],[684,.72],[693,.7],[729,.73],[735,.73],[769,.72],[835,.72],[938,.71],[548,.71],[531,.7],[514,.7],[503,.68],[588,.73],[593,.71],[588,.68],[610,.68],[639,.67],[718,.68],[877,.66],[890,.67],[970,.66],[531,.66],[554,.65],[599,.64],[704,.64],[718,.63],[763,.64],[886,.62],[914,.62],[942,.62],[633,.62],[633,.6],[916,.58],[525,.57],[542,.6],[554,.6],[573,.6],[582,.57],[599,.56],[612,.57],[644,.57],[650,.55],[701,.57],[724,.58],[548,.54],[559,.52],[593,.55],[593,.52],[624,.52],[673,.52],[744,.53],[809,.52],[707,.5],[718,.49],[599,.49],[576,.47],[588,.47],[667,.46],[823,.47],[806,.46],[962,.44],[701,.44],[718,.43],[746,.46],[754,.46],[622,.43],[831,.4],[854,.4],[650,.41],[729,.41],[684,.39],[786,.39],
[1000,.37],[933,.33],[937,.35],[984,.29],[999,.31],[979,.24],[984,.19],[998,.09],[979,.07],[962,.11],[939,.14],[945,.1],[931,.05],[920,.03],
[905,-.02],[916,-.04],[956,-.06],[973,-.05],[984,-.07],[998,-.06],[950,-.05],[865,.005],[886,.005],[874,-.08],[854,-.11],[843,-.08],[820,-.09],[803,-.08],[769,-.06],[735,-.13],[729,-.18],[707,-.08],[690,-.07],[661,-.06],[656,-.1],[616,-.08],[605,-.13],[580,-.14],[588,-.09],[548,-.16],[556,-.18],[525,-.14],[525,-.1],[503,-.19],[593,-.2],[559,-.25],[559,-.28],[597,-.25],[607,-.25],[574,-.32],[591,-.33],[612,-.34],[636,-.3],[670,-.32],[690,-.32],[767,-.39],[648,-.43],[588,-.44],[584,-.46],[596,-.48],[610,-.47],[661,-.48],[727,-.47],[763,-.49],[826,-.44],[854,-.45],[863,-.47],[936,-.43],[854,-.06],
[880,.33],[860,.36],[840,.36],[870,.3],[890,.27],[900,.24],[870,.22],[920,.27],[930,.24],[860,.18],[880,.15],[900,.12],[860,.07],[880,.06],[900,.08],[870,.1],[845,.04],[830,.03],[810,.02],[790,0],[775,.01],[750,-.02],[730,-.04],[705,-.03],[680,-.04],[650,-.05],[620,-.04],[600,-.05],[570,-.06],[540,-.07],[510,-.07],[480,-.05],[460,-.07],
[520,.37],[535,.38],[548,.4],[560,.41],[575,.42],[590,.41],[605,.39],[620,.38],[635,.37],[650,.36],[665,.36],[680,.34],[695,.34],[710,.34],[725,.36],[740,.33],[755,.32],[770,.34],[785,.33],[800,.33],[815,.34],[830,.35],[850,.35],
[60,.08],[70,.04],[80,.02],[90,0],[100,-.01],[110,-.02],[125,-.03],[140,-.04],[155,-.05],[170,-.05],[190,-.06],[210,-.06],[230,-.07],[250,-.08],[270,-.08],[290,-.07],[310,-.07],[330,-.09],[350,-.06],[370,-.08],[390,-.07],[410,-.05],[430,-.05],
[100,.17],[115,.19],[130,.2],[145,.21],[160,.2],[175,.22],[190,.21],[205,.24],[220,.25],[235,.23],[250,.26],[265,.27],[280,.25],[295,.28],[310,.27],[325,.28],[340,.31]];
const obsD2=[[72,.1],[84,.13],[92,.08],[104,.14],[118,.16],[128,.02],[136,.18],[150,.01],[152,.17],[165,.19],[172,-.01],[186,.18],[195,-.02],[200,.2],[215,.21],[220,-.03],[228,.22],[240,-.04],[245,.23],[258,.24],[262,-.03],[272,.23],[282,-.05],[288,.24],[300,-.04],[302,.25],[318,.24],[322,-.05],[335,.26],[342,-.05],[348,.28],[356,.29],[360,-.05],[368,.27],[375,.3],[380,-.04],[392,.31],[402,.3],[405,-.03],[415,.31],[425,.3],[428,-.03],[438,.32],[445,-.02],[450,.31],[462,.32],[465,-.04],[472,.33],[482,.32],[490,-.03],[495,.35],[505,.34],[512,-.05],[518,.33],[530,.35],[532,-.03],[544,.36],[552,-.04],[556,.37],[568,.38],[572,-.02],[582,.39],[590,-.02],[598,.37],[610,.36],[612,-.01],[625,.35],[628,-.02],[640,.34],[642,.01],[655,.33],[660,0],[670,.33],[672,-.01],[685,.31],[690,.01],[700,.31],[705,.02],[715,.32],[720,-.01],[730,.31],[738,.02],[745,.3],[752,.01],[760,.29],[768,.03],[775,.3],[782,.04],[790,.31],[795,.02],[805,.3],[810,.05],[820,.31],[825,.06],[835,.3],[838,.08],[845,.33],[850,.09],[855,.31],[858,.12],[862,.34],[866,.14],[868,.27],[872,.18],[875,.32],[878,.22],[882,.28],[885,.19],[888,.35],[892,.16],[895,.31],[898,.2],[902,.33],[905,.15],[908,.27],[912,.11],[915,.22],[918,.18],[925,.31],[928,.14],[932,.08],[940,.28],[948,.2],[952,.06],[958,.16],[965,.02],[970,.14],[975,.21],[990,.12],[895,.05],[912,.05],[925,0],[890,.02],[878,.01],[860,.03],[850,.03],[835,.05],[815,.06],[800,.06],[620,.03],[640,.05],[660,.03],[680,.04],[695,.03],[712,.05],[725,.04],[745,.04],[760,.05],[640,.3],[660,.3],[680,.29],[700,.28],[720,.28],[740,.28],[760,.26],[780,.27],[800,.27],[820,.26],[840,.26],[855,.24],[40,.05],[28,.02],[18,.01],[10,-.02],[35,-.03],[48,.03],[62,0],[72,-.03],[85,-.05],[120,-.08],[152,-.09],[168,-.08],[215,-.1],[235,-.12],[262,-.11],[270,-.13],[295,-.1],[312,-.12],[338,-.1],[355,-.13],[378,-.1],[398,-.11],[412,-.09],[438,-.09],[448,-.09],[472,-.07],[495,-.1],[520,-.06],[532,-.09],[562,-.09],[575,-.07],[610,-.07],[635,-.08],[645,-.07],[675,-.07],[715,-.07],[755,-.05],[785,-.05],[812,-.07],[835,-.04],[852,-.03],[870,-.03],[895,-.04],
[408,.37],[418,.35],[438,.36],[458,.36],[478,.36],[498,.38],[512,.4],[528,.42],[540,.42],[552,.44],[565,.43],[578,.44],[595,.44],[610,.41],[625,.42],[642,.39],[660,.38],[675,.39],[695,.37],[712,.38],[735,.38],[762,.36],[778,.37],[795,.35],[810,.36],[825,.37],[845,.37],[865,.37],[878,.36],[895,.35],[915,.33],[120,.22],[138,.24],[128,.25],[155,.25],[165,.26],[185,.25],[198,.27],[212,.28],[228,.27],[240,.28],[255,.3],[285,.3],[300,.3],[322,.31],[340,.34],[350,.33],[365,.32],[380,.33]];
const obsD3=[[410,.44],[440,.42],[455,.44],[490,.41],[515,.45],[530,.47],[540,.5],[545,.44],[565,.47],[580,.5],[605,.46],[615,.47],[630,.45],[640,.5],[660,.44],[675,.47],[690,.42],[605,.53],[615,.6],[565,.57],[520,.52],[510,.58],[495,.6],[480,.62],[455,.58],[450,.42],[725,.45],[765,.42],[775,.44],[790,.47],[840,.44],[870,.42],[885,.39],[905,.39],[350,.42],[320,.46],[260,.43],[180,.38],[130,.35],[110,.31]];

// ---------- drawing ----------
const svg=d3.select("#c").append("svg").attr("width",752).attr("height",696).attr("viewBox","0 0 752 696");
const frameCol="#4a4a4a", tickSize=13.5, titleSize=14.3, pow=v=>Math.pow(10,v);

function scalesLog(x0,x1,yTop,yBot){
  const sx=d3.scaleLog().domain([1.78,1950]).range([x0,x1]);
  const sy=d3.scaleLog().domain([pow(-2.5),pow(2.5)]).range([yBot,yTop]);
  return {sx,sy};
}
function scalesLin(x0,x1,yTop,yBot){
  const sx=d3.scaleLinear().domain([0,1000]).range([x0,x1]);
  const sy=d3.scaleLinear().domain([-0.5,1]).range([yBot,yTop]);
  return {sx,sy};
}
const fmtLog=d=>String(d);
const fmtLin=d=>d<0?"\u2212"+Math.abs(d):String(d);
function axes(g,s,xT,yT,fx,fy,padY){
  const [x0,x1]=s.sx.range(), [y1,y0]=s.sy.range();
  const b=g.append("g").attr("transform",`translate(0,${y1})`).call(d3.axisBottom(s.sx).tickValues(xT).tickFormat(fx).tickSize(-3).tickPadding(8.2));
  const t=g.append("g").attr("transform",`translate(0,${y0})`).call(d3.axisTop(s.sx).tickValues(xT).tickFormat("").tickSize(-3));
  const l=g.append("g").attr("transform",`translate(${x0},0)`).call(d3.axisLeft(s.sy).tickValues(yT).tickFormat(fy).tickSize(-3).tickPadding(padY));
  const r=g.append("g").attr("transform",`translate(${x1},0)`).call(d3.axisRight(s.sy).tickValues(yT).tickFormat("").tickSize(-3));
  [b,t,l,r].forEach(a=>{a.select(".domain").remove();a.selectAll("line").attr("stroke","#222").attr("stroke-width",1);
    a.selectAll("text").attr("font-size",tickSize).attr("font-family",'"Liberation Sans",Arial,sans-serif').attr("fill","#1a1a1a");});
  g.append("rect").attr("x",x0).attr("y",y0).attr("width",x1-x0).attr("height",y1-y0).attr("fill","none").attr("stroke",frameCol).attr("stroke-width",1.2);
}
function clip(id,s){
  const [x0,x1]=s.sx.range(), [y1,y0]=s.sy.range();
  svg.append("clipPath").attr("id",id).append("rect").attr("x",x0).attr("y",y0).attr("width",x1-x0).attr("height",y1-y0);
  return svg.append("g").attr("clip-path",`url(#${id})`);
}
function drawBands(g,list,px,py){
  const area=d3.area().x(d=>px(d[0])).y0(d=>py(d[1])).y1(d=>py(d[2])).curve(d3.curveMonotoneX);
  g.selectAll(null).data(list).join("path").attr("d",d=>area(d[1])).attr("fill",d=>d[0]<0?"#999":colorRamp[d[0]]);
}
function drawFit(g,s,pts,col,w){
  g.append("path").attr("d",d3.line().x(d=>s.sx(d[0])).y(d=>s.sy(d[1]))(pts)).attr("fill","none").attr("stroke",col).attr("stroke-width",w);
}
function drawDots(g,pts,px,py){
  g.selectAll(null).data(pts).join("circle").attr("cx",d=>px(d[0])).attr("cy",d=>py(d[1])).attr("r",2).attr("fill","#999");
}
function drawBins(g,s,xs,m,hi,lo){
  const e=g.append("g").attr("stroke","#222").attr("stroke-width",1).attr("stroke-opacity",.85);
  xs.forEach((x,i)=>{
    const X=s.sx(x);
    e.append("line").attr("x1",X).attr("x2",X).attr("y1",s.sy(hi[i])).attr("y2",s.sy(lo[i])).attr("stroke-width",1.1);
    [hi[i],lo[i]].forEach(v=>e.append("line").attr("x1",X-4).attr("x2",X+4).attr("y1",s.sy(v)).attr("y2",s.sy(v)).attr("stroke","#111"));
  });
  g.selectAll(null).data(xs).join("circle").attr("cx",d=>s.sx(d)).attr("cy",(d,i)=>s.sy(m[i])).attr("r",4.6).attr("fill","#000");
}
function label(x,y,txt,size,opt={}){
  const t=svg.append("text").attr("x",x).attr("y",y).attr("font-size",size).attr("text-anchor",opt.anchor||"middle").attr("fill",opt.fill||"#1a1a1a");
  if(opt.bold)t.attr("font-weight","bold");
  t.text(txt);return t;
}
function yTitle(x,cy,word){
  const t=svg.append("text").attr("transform",`translate(${x},${cy}) rotate(-90)`).attr("text-anchor","middle").attr("font-size",titleSize).attr("fill","#1a1a1a");
  t.append("tspan").text(word+" \u0394CH");
  t.append("tspan").text("4").attr("font-size",9.5).attr("dy",2.5);
  t.append("tspan").text(" (nM)").attr("dy",-2.5);
}
function nppTitle(cx,y){
  const t=svg.append("text").attr("x",cx).attr("y",y).attr("text-anchor","middle").attr("font-size",titleSize).attr("fill","#1a1a1a");
  t.append("tspan").text("NPP (mgC m");
  t.append("tspan").text("\u22122").attr("font-size",9.5).attr("dy",-5);
  t.append("tspan").text(" day").attr("dy",5);
  t.append("tspan").text("\u22121").attr("font-size",9.5).attr("dy",-5);
  t.append("tspan").text(")").attr("dy",5);
}
function colorBar(x0,x1,y,h,domain,labX,titleX,labY,titleY){
  const band=d3.scaleBand().domain(d3.range(colorRamp.length)).range([x0,x1]);
  const lg=d3.scaleLog().domain(domain).range([x0,x1]);
  svg.selectAll(null).data(colorRamp).enter().append("rect").attr("x",(d,i)=>band(i)).attr("y",y).attr("width",band.bandwidth()+.4).attr("height",h).attr("fill",d=>d);
  svg.append("rect").attr("x",x0).attr("y",y).attr("width",x1-x0).attr("height",h).attr("fill","none").attr("stroke","#333").attr("stroke-width",1);
  freqTicks.forEach((f,i)=>{
    if(f<1) svg.append("line").attr("x1",lg(f)).attr("x2",lg(f)).attr("y1",y+h).attr("y2",y+h-1.5).attr("stroke","#111");
    label(labX[i],labY,String(f),12.5);
  });
  label(titleX,titleY,"Relative frequency",12.6);
}

// panel a
const A=scalesLog(56,350,9.5,294);
const ga=clip("ca",A);
drawBands(ga,bandsA,d=>A.sx(pow(d)),d=>A.sy(pow(d)));
drawFit(ga,A,fitA,"#000",3);
axes(svg.append("g"),A,depthTicks,logConcTicks,fmtLog,fmtLog,6.7);
colorBar(82,214.3,235,9,[0.00316,1],[107.7,161,205.7],148,259.5,279);
yTitle(13,152,"Mapped");
label(203,335,"Seafloor depth (m)",titleSize);
label(2,15,"a",18,{anchor:"start",bold:true,fill:"#000"});

// panel b
const B=scalesLog(442.3,737,9.5,294);
const gb=clip("cb",B);
drawBands(gb,[[-1,coreB],[-1,coreB2]],d=>B.sx(pow(d)),d=>B.sy(pow(d)));
drawDots(gb,obsB.concat(obsB2,obsB3),d=>B.sx(pow(d)),d=>B.sy(pow(d)));
drawBins(gb,B,binDepth,binMeanB,binHiB,binLoB);
drawFit(gb,B,fitB,"#b30f16",3);
axes(svg.append("g"),B,depthTicks,logConcTicks,fmtLog,fmtLog,4);
yTitle(398,152,"Observed");
label(589.3,335,"Seafloor depth (m)",titleSize);
label(383,15,"b",18,{anchor:"start",bold:true,fill:"#000"});

// panel c
const C=scalesLin(56,347.3,370.7,650.3);
const gc=clip("cc",C);
drawBands(gc,bandsC,d=>C.sx(d),d=>C.sy(d));
drawFit(gc,C,fitC,"#000",2.6);
const sym=[d3.symbolSquare,d3.symbolCircle,d3.symbolTriangle,d3.symbolTriangle];
const sizeBig=[130,100,120,120], sizeSmall=[34,64,44,44], rot=[0,0,180,0];
biomes.forEach((b,i)=>{
  gc.append("path").attr("d",d3.symbol().type(sym[i]).size(sizeBig[i])()).attr("transform",`translate(${C.sx(biomeNpp[i])},${C.sy(biomeCH4[i])}) rotate(${rot[i]})`).attr("fill","none").attr("stroke","#000").attr("stroke-width",i==0?2.6:2);
});
axes(svg.append("g"),C,nppTicks,linTicks,fmtLin,fmtLin,6.7);
svg.append("rect").attr("x",80.3).attr("y",382.3).attr("width",91.7).attr("height",62.7).attr("fill","#fff").attr("stroke","#333").attr("stroke-width",1);
biomes.forEach((b,i)=>{
  const y=391.7+i*14.67;
  svg.append("path").attr("d",d3.symbol().type(sym[i]).size(sizeSmall[i])()).attr("transform",`translate(94.7,${y}) rotate(${rot[i]})`).attr("fill","none").attr("stroke","#000").attr("stroke-width",1.5);
  label(106,y+4.3,b,12.2,{anchor:"start"});
});
colorBar(187.3,320,595.7,9,[0.01,1],[184.7,253.3,320],253.8,619.7,635);
yTitle(13,510.5,"Mapped");
nppTitle(201.3,692);
label(2,371,"c",18,{anchor:"start",bold:true,fill:"#000"});

// panel d
const D=scalesLin(442.3,736.3,369.7,648.7);
const gd=clip("cd",D);
drawBands(gd,[[-1,coreD]],d=>D.sx(d),d=>D.sy(d));
drawDots(gd,obsD.concat(obsD2,obsD3),d=>D.sx(d),d=>D.sy(d));
drawBins(gd,D,binNpp,binMeanD,binHiD,binLoD);
drawFit(gd,D,fitD,"#b30f16",3);
axes(svg.append("g"),D,nppTicks,linTicks,fmtLin,fmtLin,7);
yTitle(398,510,"Observed");
nppTitle(589.3,692);
label(383,371,"d",18,{anchor:"start",bold:true,fill:"#000"});
</script></body></html>
